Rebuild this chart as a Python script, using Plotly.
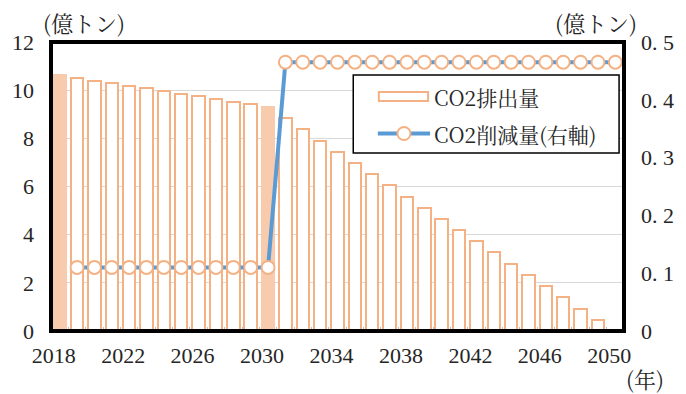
import plotly.graph_objects as go

# Annual CO2 emissions (left axis, 100 million t) and annual reduction (right axis)
years = list(range(2018, 2051))
emissions = [10.62, 10.51, 10.40, 10.29, 10.18, 10.07, 9.96, 9.85, 9.74, 9.63,
             9.52, 9.41, 9.30, 8.84, 8.37, 7.91, 7.44, 6.98, 6.51, 6.05,
             5.58, 5.12, 4.65, 4.19, 3.72, 3.26, 2.79, 2.33, 1.86, 1.40,
             0.93, 0.47, 0.00]
highlight_years = [2018, 2030]
reduction_years = list(range(2019, 2051))
reduction = [0.11] * 12 + [0.465] * 20

x_ticks = list(range(2018, 2051, 4))
y_ticks = [0, 2, 4, 6, 8, 10, 12]
y2_ticks = [0, 0.1, 0.2, 0.3, 0.4, 0.5]
y2_ticktext = ["0", "0. 1", "0. 2", "0. 3", "0. 4", "0. 5"]

ORANGE = "#F4B183"
ORANGE_FILL = "#F8CBAD"
BLUE = "#5B9BD5"
NUM_FONT = "Liberation Serif"
JP_FONT = "Noto Serif CJK JP"
TXT = "#262626"

W, H = 686, 394
L, R, T, B = 50, 54, 42, 63
PW, PH = W - L - R, H - T - B


def px(x):
    return (x - L) / PW


def py(y):
    return (H - B - y) / PH


fill = [ORANGE_FILL if y in highlight_years else "white" for y in years]
edge = [ORANGE_FILL if y in highlight_years else ORANGE for y in years]

fig = go.Figure()
fig.add_trace(go.Bar(
    x=years, y=emissions, width=0.72,
    marker=dict(color=fill, line=dict(color=edge, width=2)),
    name="CO2排出量", showlegend=False,
))
fig.add_trace(go.Scatter(
    x=reduction_years, y=reduction, yaxis="y2", mode="lines+markers",
    line=dict(color=BLUE, width=4),
    marker=dict(symbol="circle", size=13, color="white",
                line=dict(color=ORANGE, width=2)),
    name="CO2削減量(右軸)", showlegend=False,
))

shapes = [
    # plot frame
    dict(type="rect", xref="paper", yref="paper", x0=0, x1=1, y0=0, y1=1,
         line=dict(color="black", width=4), layer="above"),
    # legend box
    dict(type="rect", xref="paper", yref="paper", x0=px(357), x1=px(627),
         y0=py(153), y1=py(75), fillcolor="white",
         line=dict(color="black", width=1.5), layer="above"),
    dict(type="rect", xref="paper", yref="paper", x0=px(383), x1=px(433),
         y0=py(101), y1=py(92), fillcolor="white",
         line=dict(color=ORANGE, width=2), layer="above"),
    dict(type="line", xref="paper", yref="paper", x0=px(382), x1=px(435),
         y0=py(133.5), y1=py(133.5),
         line=dict(color=BLUE, width=4), layer="above"),
    dict(type="circle", xref="paper", yref="paper",
         xsizemode="pixel", ysizemode="pixel",
         xanchor=px(408.5), yanchor=py(133.5), x0=-6.5, x1=6.5, y0=-6.5, y1=6.5,
         fillcolor="white", line=dict(color=ORANGE, width=2), layer="above"),
]

annotations = [
    dict(text="CO2排出量", x=px(437), y=py(96.5), size=21),
    dict(text="CO2削減量(右軸)", x=px(437), y=py(134), size=21),
    dict(text="(億トン)", x=px(40), y=py(22), size=22),
    dict(text="(億トン)", x=px(560), y=py(22), size=22),
    dict(text="(年)", x=px(632), y=py(379), size=22),
]
for a in annotations:
    size = a.pop("size")
    a.update(xref="paper", yref="paper", showarrow=False,
             xanchor="left", yanchor="middle",
             font=dict(family=JP_FONT, size=size, color=TXT))

tick_font = dict(family=NUM_FONT, size=22, color=TXT)

fig.update_layout(
    width=W, height=H, autosize=False,
    margin=dict(l=L, r=R, t=T, b=B, pad=0),
    paper_bgcolor="white", plot_bgcolor="white",
    font=dict(family=NUM_FONT, size=20, color=TXT),
    bargap=0,
    xaxis=dict(
        range=[2017.5, 2050.5], tickvals=x_ticks, ticktext=[str(v) for v in x_ticks],
        showgrid=False, zeroline=False, showline=False, ticks="",
        ticklabelshift=-6, ticklabelstandoff=9,
        minor=dict(tick0=2017.5, dtick=1, ticks="inside", ticklen=4,
                   tickcolor="#BFBFBF", tickwidth=1, showgrid=False),
        tickfont=tick_font,
    ),
    yaxis=dict(
        range=[0, 12], tickvals=y_ticks, showgrid=True, gridcolor="#D9D9D9",
        gridwidth=1, zeroline=False, showline=False, ticks="",
        ticklabelstandoff=16,
        tickfont=tick_font,
    ),
    yaxis2=dict(
        range=[0, 0.5], tickvals=y2_ticks, ticktext=y2_ticktext,
        overlaying="y", side="right", showgrid=False, zeroline=False,
        showline=False, ticks="", ticklabelstandoff=16,
        tickfont=tick_font,
    ),
    shapes=shapes,
    annotations=annotations,
)

fig.write_html("out.html")
